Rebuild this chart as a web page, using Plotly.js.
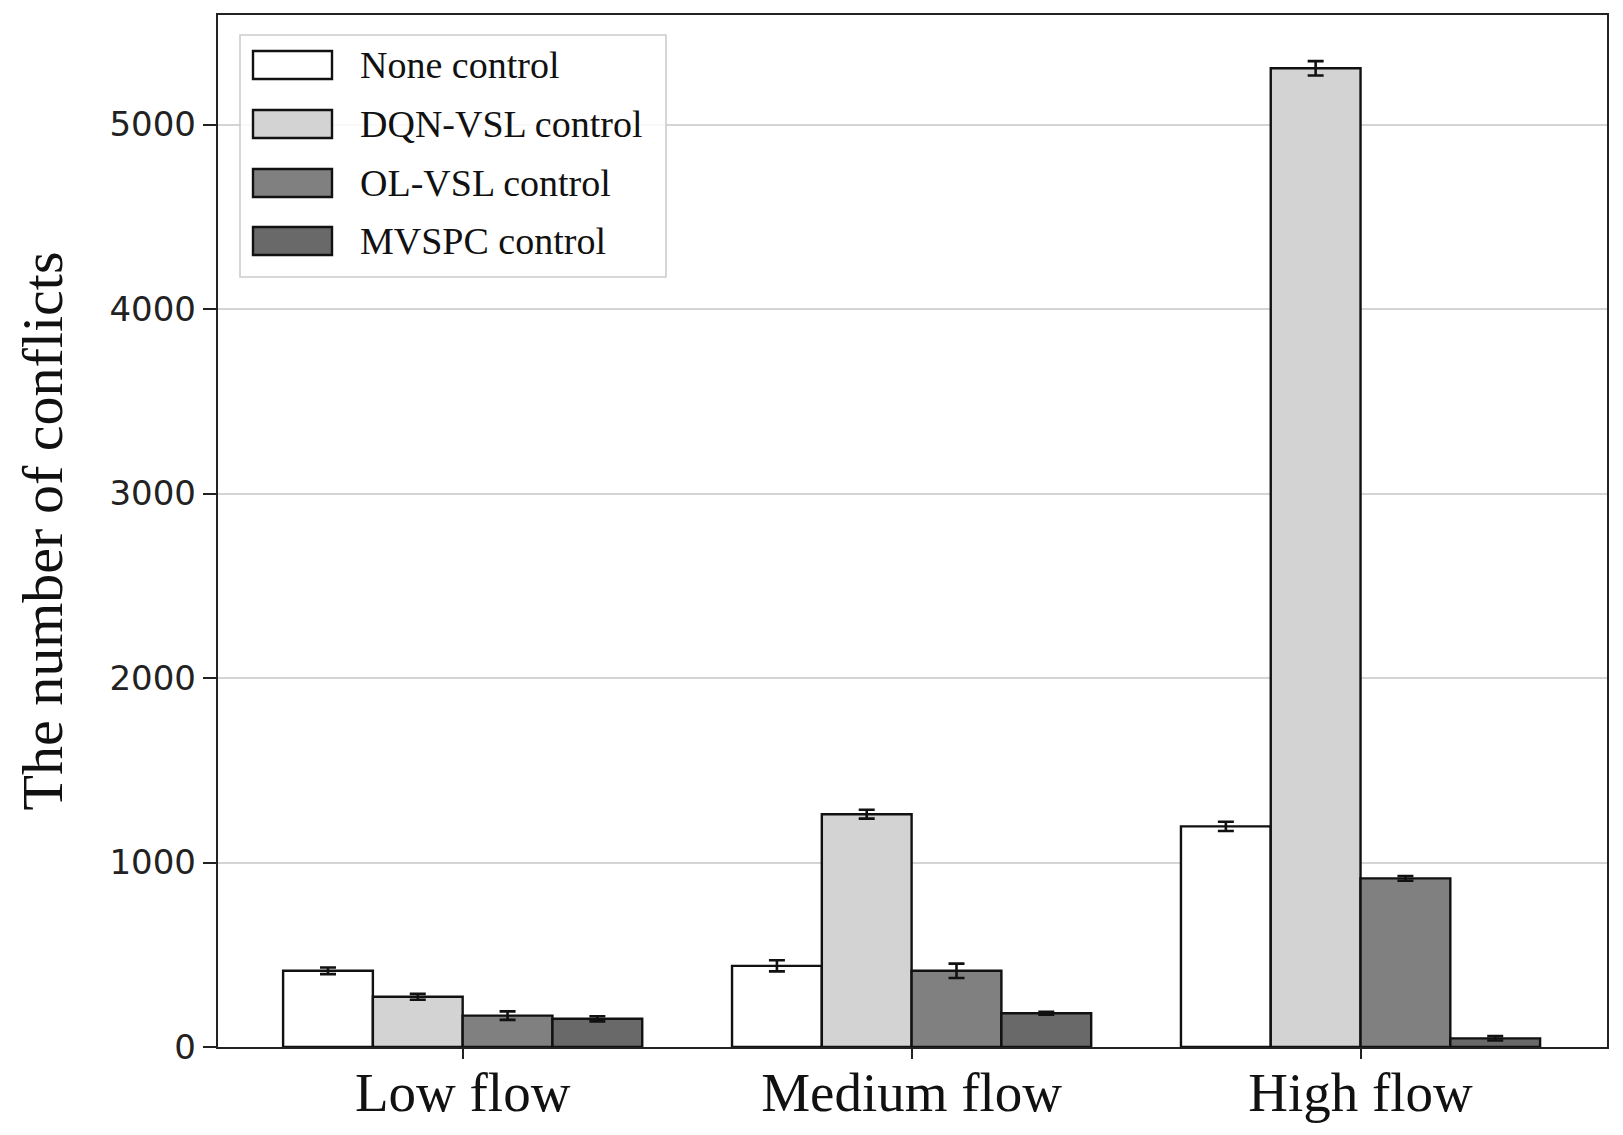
<!DOCTYPE html>
<html>
<head>
<meta charset="utf-8">
<script src="https://cdn.plot.ly/plotly-3.0.1.min.js"></script>
<style>html,body{margin:0;padding:0;background:#fff;}#chart{width:1623px;height:1135px;}</style>
</head>
<body>
<div id="chart"></div>
<script>
const categories = ["Low flow", "Medium flow", "High flow"];
const seriesNames = ["None control", "DQN-VSL control", "OL-VSL control", "MVSPC control"];
const noneValues = [413, 440, 1196];
const noneErrors = [18, 30, 25];
const dqnValues = [272, 1262, 5305];
const dqnErrors = [16, 24, 39];
const olValues = [170, 413, 914];
const olErrors = [23, 39, 13];
const mvspcValues = [153, 183, 47];
const mvspcErrors = [14, 8, 12];
const seriesColors = ["#ffffff", "#d3d3d3", "#808080", "#696969"];
const yTickValues = [0, 1000, 2000, 3000, 4000, 5000];

const allValues = [noneValues, dqnValues, olValues, mvspcValues];
const allErrors = [noneErrors, dqnErrors, olErrors, mvspcErrors];

const W = 1623, H = 1135;
const M = {l: 218, r: 16, t: 15, b: 88};
const pw = W - M.l - M.r, ph = H - M.t - M.b;
const px = v => (v - M.l) / pw;
const py = v => (H - M.b - v) / ph;

const serif = "Liberation Serif, Times New Roman, serif";

const traces = allValues.map((vals, i) => ({
  type: "bar",
  name: seriesNames[i],
  x: categories,
  y: vals,
  showlegend: false,
  marker: {color: seriesColors[i], line: {color: "#111111", width: 2.4}},
  error_y: {type: "data", array: allErrors[i], visible: true, color: "#111111", thickness: 2.6, width: 8}
}));

// legend drawn as a boxed key (styling only)
const shapes = [{
  type: "rect", xref: "paper", yref: "paper",
  x0: px(240), x1: px(666), y0: py(277), y1: py(35),
  line: {color: "#cccccc", width: 1.6}, fillcolor: "rgba(255,255,255,0.85)", layer: "above"
}];
const annotations = [];
const rowCenters = [65, 124, 183, 241];
seriesNames.forEach((name, i) => {
  const c = rowCenters[i];
  shapes.push({
    type: "rect", xref: "paper", yref: "paper",
    x0: px(253), x1: px(332), y0: py(c + 14), y1: py(c - 14),
    line: {color: "#111111", width: 2.4}, fillcolor: seriesColors[i], layer: "above"
  });
  annotations.push({
    xref: "paper", yref: "paper", x: px(358), y: py(c),
    xanchor: "left", yanchor: "middle", showarrow: false, text: name,
    font: {family: serif, size: 38, color: "#111111"}
  });
});

const layout = {
  width: W,
  height: H,
  margin: M,
  paper_bgcolor: "#ffffff",
  plot_bgcolor: "#ffffff",
  barmode: "group",
  bargap: 0.2,
  bargroupgap: 0,
  showlegend: false,
  shapes: shapes,
  annotations: annotations,
  xaxis: {
    type: "category",
    range: [-0.545, 2.549],
    showline: true, mirror: true, linecolor: "#222222", linewidth: 2.2,
    ticks: "outside", ticklen: 10, tickwidth: 2, tickcolor: "#222222",
    ticklabelstandoff: -14,
    showgrid: false, zeroline: false,
    tickfont: {family: serif, size: 55, color: "#111111"}
  },
  yaxis: {
    range: [0, 5594],
    tickvals: yTickValues,
    ticktext: yTickValues.map(String),
    showline: true, mirror: true, linecolor: "#222222", linewidth: 2.2,
    ticks: "outside", ticklen: 13, tickwidth: 2, tickcolor: "#222222",
    showgrid: true, gridcolor: "#d4d4d4", gridwidth: 2,
    zeroline: false,
    tickfont: {family: "DejaVu Sans, sans-serif", size: 34, color: "#222222"},
    title: {text: "The number of conflicts", standoff: 28,
      font: {family: serif, size: 58, color: "#111111"}}
  }
};

Plotly.newPlot("chart", traces, layout, {displayModeBar: false, staticPlot: true});
</script>
</body>
</html>
